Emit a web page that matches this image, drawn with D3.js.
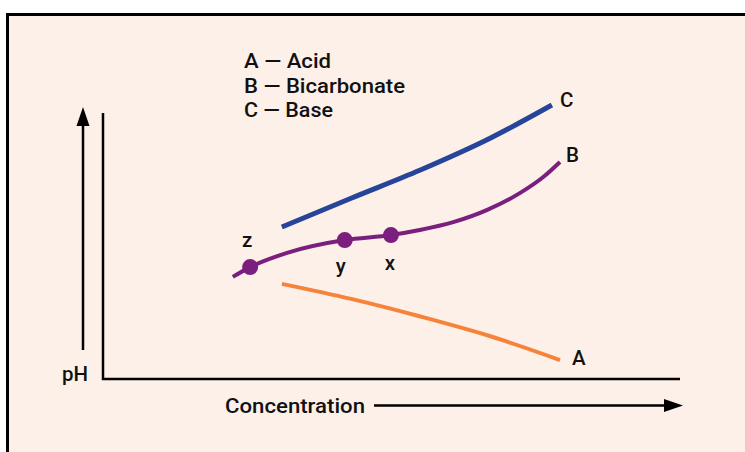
<!DOCTYPE html>
<meta charset="utf-8">
<style>
body { margin: 0; background: #fff; }
text { font-family: Roboto, "Open Sans", sans-serif; font-size: 20.5px; font-weight: 500; fill: #111; }
</style>
<body>
<div id="chart"></div>
</body>
<script src="https://d3js.org/d3.v7.min.js"></script>
<script>

// series values, in arbitrary units (x: concentration, y: pH)
var acidX = [31, 43, 55, 67, 79.2];
var acidY = [34.1, 28.7, 22.4, 15.4, 6.8];
var bicarbX = [22.5, 25.5, 31.9, 41.9, 49.9, 54.9, 60.7, 66.6, 72.3, 76.3, 79.2];
var bicarbY = [36.6, 40.1, 45.2, 49.8, 51.6, 53.4, 56.2, 60.6, 66.7, 72.4, 77.8];
var baseX = [31, 43, 55, 67, 77.8];
var baseY = [54.5, 64.8, 74.9, 86.2, 98.2];

// marked points on the bicarbonate curve
var pointNames = ["z", "y", "x"];
var pointX = [25.5, 41.9, 49.9];
var pointY = [40.1, 49.8, 51.6];

var legendLabels = ["A \u2014 Acid", "B \u2014 Bicarbonate", "C \u2014 Base"];

var width = 745, height = 452;

var svg = d3.select("#chart").append("svg")
    .attr("width", width)
    .attr("height", height);

// panel
svg.append("rect")
    .attr("x", 7.5).attr("y", 14.5)
    .attr("width", 800).attr("height", 500)
    .attr("fill", "#fdf0e8")
    .attr("stroke", "#000")
    .attr("stroke-width", 3);

var x = d3.scaleLinear().domain([0, 100]).range([103, 680]),
    y = d3.scaleLinear().domain([0, 100]).range([379, 100]);

var line = d3.line()
    .curve(d3.curveMonotoneX)
    .x(function(d) { return x(d[0]); })
    .y(function(d) { return y(d[1]); });

var series = [
  {name: "A", color: "#f5843a", w: 4, pts: d3.zip(acidX, acidY), lab: [12, 5]},
  {name: "B", color: "#7a1f7e", w: 4, pts: d3.zip(bicarbX, bicarbY), lab: [6, 0]},
  {name: "C", color: "#26449a", w: 5, pts: d3.zip(baseX, baseY), lab: [8, 2]}
];

// axes (an L, no ticks)
svg.append("path")
    .attr("d", "M" + x(0) + "," + 113 + "V" + y(0) + "H" + x(100))
    .attr("fill", "none")
    .attr("stroke", "#000")
    .attr("stroke-width", 2.5);

// pH arrow
svg.append("line")
    .attr("x1", 83).attr("x2", 83)
    .attr("y1", 350).attr("y2", 122)
    .attr("stroke", "#000").attr("stroke-width", 2.5);
svg.append("path")
    .attr("d", "M83,107L89.5,126L76.5,126Z")
    .attr("fill", "#000");
svg.append("text")
    .attr("x", 75).attr("y", 381)
    .attr("text-anchor", "middle")
    .attr("textLength", 26).attr("lengthAdjust", "spacingAndGlyphs")
    .text("pH");

// concentration arrow
svg.append("text")
    .attr("x", 225).attr("y", 413)
    .attr("textLength", 140).attr("lengthAdjust", "spacingAndGlyphs")
    .text("Concentration");
svg.append("line")
    .attr("x1", 374).attr("x2", 668)
    .attr("y1", 405.5).attr("y2", 405.5)
    .attr("stroke", "#000").attr("stroke-width", 2.5);
svg.append("path")
    .attr("d", "M683,405.5L664,399L664,412Z")
    .attr("fill", "#000");

// curves
svg.selectAll(".curve")
    .data(series)
  .enter().append("path")
    .attr("class", "curve")
    .attr("d", function(d) { return line(d.pts); })
    .attr("fill", "none")
    .attr("stroke", function(d) { return d.color; })
    .attr("stroke-width", function(d) { return d.w; });

// end labels
svg.selectAll(".endlabel")
    .data(series)
  .enter().append("text")
    .attr("class", "endlabel")
    .attr("x", function(d) { return x(d.pts[d.pts.length - 1][0]) + d.lab[0]; })
    .attr("y", function(d) { return y(d.pts[d.pts.length - 1][1]) + d.lab[1]; })
    .text(function(d) { return d.name; });

// points on B
var pts = d3.zip(pointNames, pointX, pointY);
var pointOffsets = [[-3, -20], [-4, 33], [-1, 35]];
svg.selectAll(".dot")
    .data(pts)
  .enter().append("circle")
    .attr("class", "dot")
    .attr("cx", function(d) { return x(d[1]); })
    .attr("cy", function(d) { return y(d[2]); })
    .attr("r", 8)
    .attr("fill", "#7a1f7e");
svg.selectAll(".dotlabel")
    .data(pts)
  .enter().append("text")
    .attr("class", "dotlabel")
    .attr("text-anchor", "middle")
    .attr("x", function(d, i) { return x(d[1]) + pointOffsets[i][0]; })
    .attr("y", function(d, i) { return y(d[2]) + pointOffsets[i][1]; })
    .text(function(d) { return d[0]; });

// legend
var legendWidths = [87, 161, 89];
svg.selectAll(".legend")
    .data(legendLabels)
  .enter().append("text")
    .attr("class", "legend")
    .attr("x", 244)
    .attr("y", function(d, i) { return 68 + i * 24.5; })
    .attr("textLength", function(d, i) { return legendWidths[i]; })
    .attr("lengthAdjust", "spacingAndGlyphs")
    .text(function(d) { return d; });

</script>
